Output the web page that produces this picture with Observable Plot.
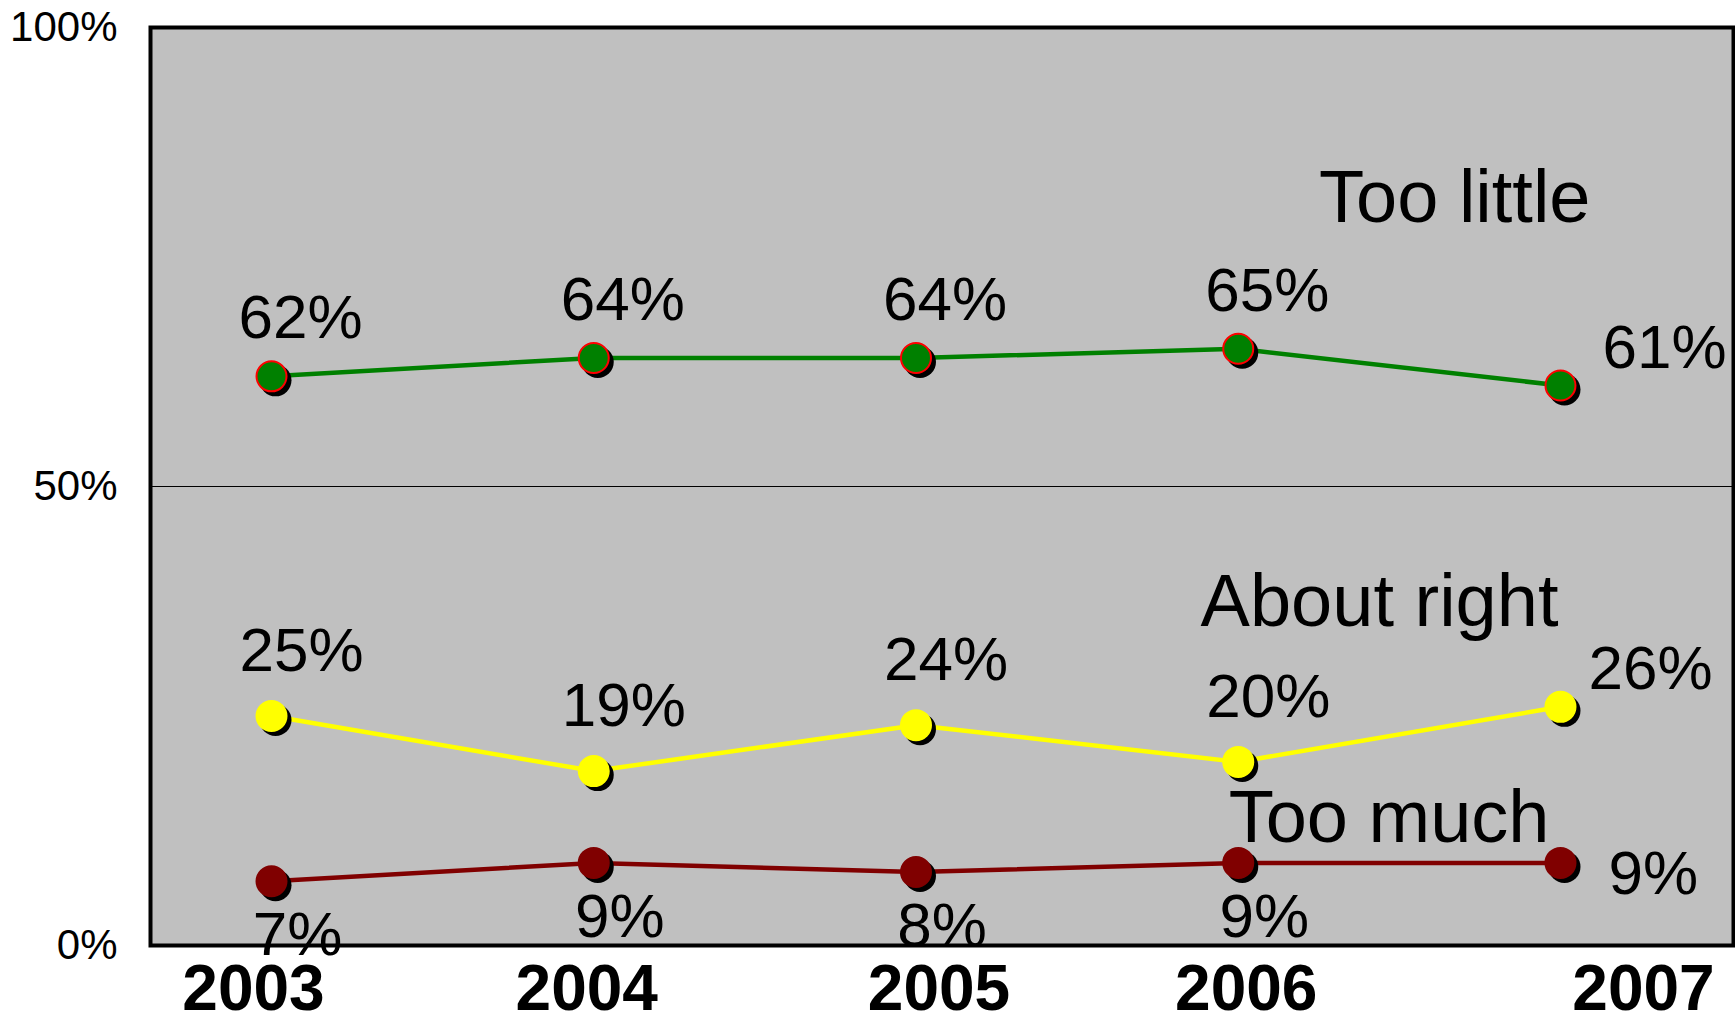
<!DOCTYPE html>
<html>
<head>
<meta charset="utf-8">
<script src="https://cdn.jsdelivr.net/npm/d3@7"></script>
<script src="https://cdn.jsdelivr.net/npm/@observablehq/plot@0.6"></script>
<style>
  html, body { margin: 0; padding: 0; background: #fff; }
  #chart svg { display: block; }
</style>
</head>
<body>
<div id="chart"></div>
<script>
const years = [2003, 2004, 2005, 2006, 2007];
const tooLittle = [62, 64, 64, 65, 61];
const aboutRight = [25, 19, 24, 20, 26];
const tooMuch = [7, 9, 8, 9, 9];
const seriesNames = ["Too little", "About right", "Too much"];
const yTicks = [0, 50, 100];

const FONT = "'Liberation Sans', Arial, sans-serif";
// horizontal nudges of the year labels (style only)
const yearLabelNudge = [-18, -7, 23, 8, 83];

const series = [
  {name: seriesNames[0], values: tooLittle, line: "#008000", fill: "#008000", stroke: "#ff0000",
   lab: {dx: 29, dy: -38}, last: {dx: 42, dy: -18}, title: {dx: 30, dy: -164}},
  {name: seriesNames[1], values: aboutRight, line: "#ffff00", fill: "#ffff00", stroke: "#ffff00",
   lab: {dx: 30, dy: -45}, last: {dx: 28, dy: -18}, title: {dx: -2, dy: -81}},
  {name: seriesNames[2], values: tooMuch, line: "#800000", fill: "#800000", stroke: "#800000",
   lab: {dx: 26, dy: 74}, last: {dx: 48, dy: 31}, title: {dx: -11, dy: -21}}
];

const marks = [
  Plot.frame({fill: "#c0c0c0"}),
  Plot.ruleY([50], {stroke: "black", strokeWidth: 1.2})
];

for (const s of series) {
  const rows = years.map((y, i) => ({year: y, value: s.values[i], name: s.name}));
  const head = rows.slice(0, -1);
  const tail = rows.slice(-1);
  marks.push(
    Plot.line(rows, {x: "year", y: "value", stroke: s.line, strokeWidth: 4.5}),
    Plot.dot(rows, {x: "year", y: "value", r: 16, fill: "black", dx: 4, dy: 4}),
    Plot.dot(rows, {x: "year", y: "value", r: 15, fill: s.fill, stroke: s.stroke, strokeWidth: 2}),
    Plot.text(head, {x: "year", y: "value", text: d => d.value + "%", fontSize: 62, fill: "black",
      textAnchor: "middle", lineAnchor: "bottom", dx: s.lab.dx, dy: s.lab.dy}),
    Plot.text(tail, {x: "year", y: "value", text: d => d.value + "%", fontSize: 62, fill: "black",
      textAnchor: "start", lineAnchor: "bottom", dx: s.last.dx, dy: s.last.dy}),
    Plot.text(tail, {x: "year", y: "value", text: "name", fontSize: 74, fill: "black",
      textAnchor: "end", lineAnchor: "bottom", dx: s.title.dx, dy: s.title.dy})
  );
}

marks.push(
  Plot.frame({stroke: "black", strokeWidth: 4}),
  Plot.axisY(yTicks, {tickSize: 0, tickPadding: 33, fontSize: 42, tickFormat: d => d + "%", label: null})
);
years.forEach((yr, i) => {
  marks.push(Plot.text([yr], {x: d => d, frameAnchor: "bottom", text: d => String(d), fontSize: 64,
    fontWeight: "bold", lineAnchor: "bottom", dy: 64, dx: yearLabelNudge[i]}));
});

const chart = Plot.plot({
  width: 1735,
  height: 1016,
  marginTop: 27,
  marginBottom: 71,
  marginLeft: 150,
  marginRight: 2,
  style: {fontFamily: FONT, background: "white", color: "black"},
  x: {type: "linear", domain: [2002.6245, 2007.5369], axis: null},
  y: {domain: [0, 100], axis: null},
  marks
});
document.getElementById("chart").appendChild(chart);
</script>
</body>
</html>
